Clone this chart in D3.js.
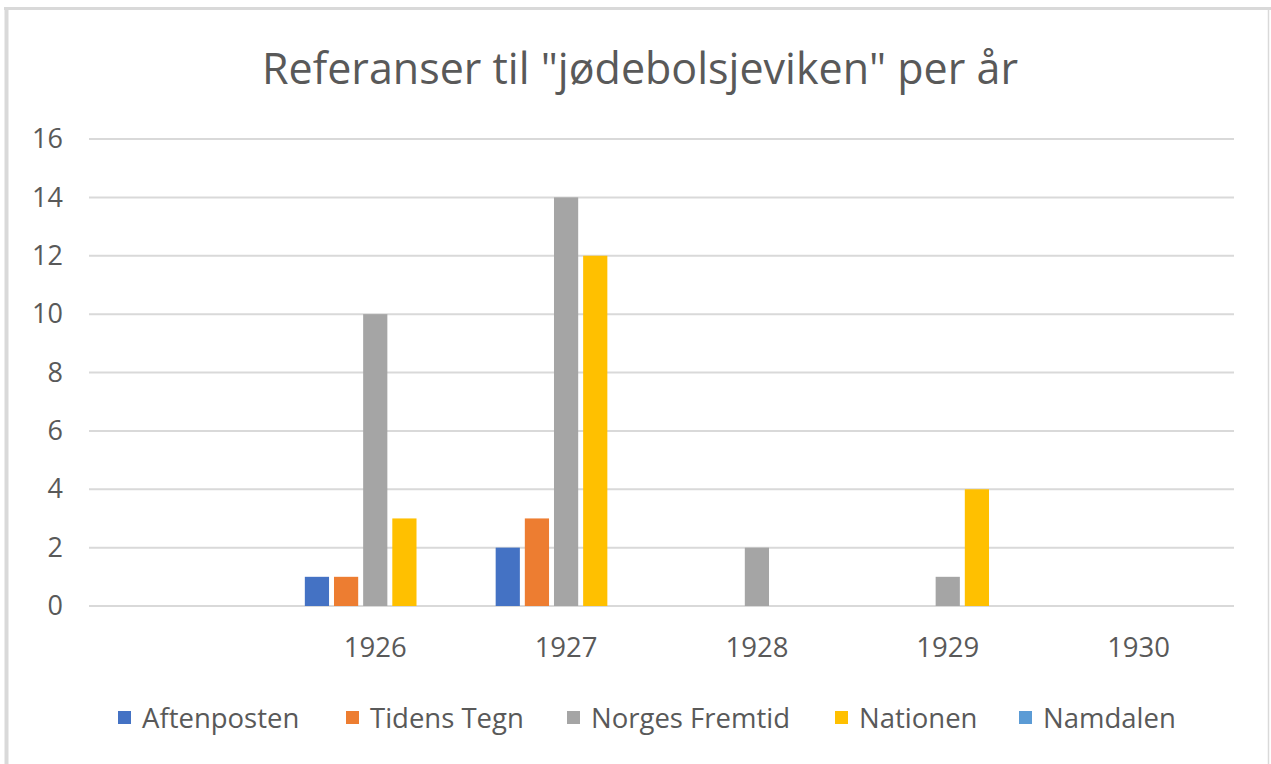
<!DOCTYPE html>
<html>
<head>
<meta charset="utf-8">
<script src="https://cdn.jsdelivr.net/npm/d3@7"></script>
<style>
  body { margin: 0; background: #fff; }
  svg { display: block; }
  text { font-family: "Open Sans", "Noto Sans", sans-serif; fill: #595959; }
</style>
</head>
<body>
<svg width="1271" height="764"></svg>
<script>
// ---------------------------------------------------------------------
// Chart data: one value list per newspaper, one slot per year.
// The first category is empty in the original sheet (blank label).
// ---------------------------------------------------------------------
const years = ["", "1926", "1927", "1928", "1929", "1930"];
const series = ["Aftenposten", "Tidens Tegn", "Norges Fremtid", "Nationen", "Namdalen"];
const colors = ["#4472C4", "#ED7D31", "#A5A5A5", "#FFC000", "#5B9BD5"];

const aftenposten   = [0, 1, 2, 0, 0, 0];
const tidensTegn    = [0, 1, 3, 0, 0, 0];
const norgesFremtid = [0, 10, 14, 2, 1, 0];
const nationen      = [0, 3, 12, 0, 4, 0];
const namdalen      = [0, 0, 0, 0, 0, 0];

const yTicks = [0, 2, 4, 6, 8, 10, 12, 14, 16];
const title = "Referanser til \"jødebolsjeviken\" per år";

const values = [aftenposten, tidensTegn, norgesFremtid, nationen, namdalen];

let svg = d3.select("svg");

// outer frame of the chart object (only top, left and right show)
svg.append("line").attr("x1", 4).attr("x2", 1271).attr("y1", 8.5).attr("y2", 8.5)
  .attr("stroke", "#d9d9d9").attr("stroke-width", 3);
svg.append("line").attr("x1", 6.5).attr("x2", 6.5).attr("y1", 7).attr("y2", 764)
  .attr("stroke", "#d9d9d9").attr("stroke-width", 4);
svg.append("line").attr("x1", 1268.5).attr("x2", 1268.5).attr("y1", 7).attr("y2", 764)
  .attr("stroke", "#d9d9d9").attr("stroke-width", 1.5);

// scales
let x0 = d3.scaleBand().domain(years).range([89, 1234]),
    x1 = d3.scaleBand().domain(series)
           .range([25, x0.bandwidth() - 25])
           .paddingInner(0.17),
    y  = d3.scaleLinear().domain([0, 16]).range([606, 139]);

// title
svg.append("text")
  .attr("x", 640).attr("y", 84)
  .attr("text-anchor", "middle")
  .style("font-size", "43px")
  .text(title);

// horizontal gridlines
svg.append("g").selectAll("line")
  .data(yTicks)
  .enter().append("line")
    .attr("x1", 89).attr("x2", 1234)
    .attr("y1", d => y(d)).attr("y2", d => y(d))
    .attr("stroke", "#d9d9d9").attr("stroke-width", 2);

// y axis labels
let yAxis = svg.append("g")
  .attr("transform", "translate(63,0)")
  .call(d3.axisLeft(y).tickValues(yTicks).tickSize(0).tickPadding(0));
yAxis.select(".domain").remove();
yAxis.selectAll("text")
  .attr("fill", "#595959")
  .style("font-size", "27px")
  .style("font-family", "\"Open Sans\", sans-serif");

// x axis labels
let xAxis = svg.append("g")
  .attr("transform", "translate(0,620)")
  .call(d3.axisBottom(x0).tickSize(0).tickPadding(0));
xAxis.select(".domain").remove();
xAxis.selectAll("text")
  .attr("fill", "#595959")
  .attr("dy", "0")
  .attr("y", 37)
  .style("font-size", "27.5px")
  .style("font-family", "\"Open Sans\", sans-serif");

// bars
let groups = svg.append("g").selectAll("g")
  .data(years)
  .enter().append("g")
    .attr("transform", d => `translate(${x0(d)},0)`);

groups.selectAll("rect")
  .data((d, i) => series.map((s, k) => ({s: s, k: k, v: values[k][i]})))
  .enter().append("rect")
    .filter(d => d.v > 0)
    .attr("x", d => x1(d.s))
    .attr("width", x1.bandwidth())
    .attr("y", d => y(d.v))
    .attr("height", d => y(0) - y(d.v))
    .attr("fill", d => colors[d.k]);

// legend
const legendX = [118, 346, 567, 835, 1019];
let legend = svg.append("g").selectAll("g")
  .data(series)
  .enter().append("g")
    .attr("transform", (d, i) => `translate(${legendX[i]},0)`);
legend.append("rect")
  .attr("x", 0).attr("y", 711)
  .attr("width", 13).attr("height", 13)
  .attr("fill", (d, i) => colors[i]);
legend.append("text")
  .attr("x", 24).attr("y", 728)
  .style("font-size", "27.5px")
  .text(d => d);
</script>
</body>
</html>
